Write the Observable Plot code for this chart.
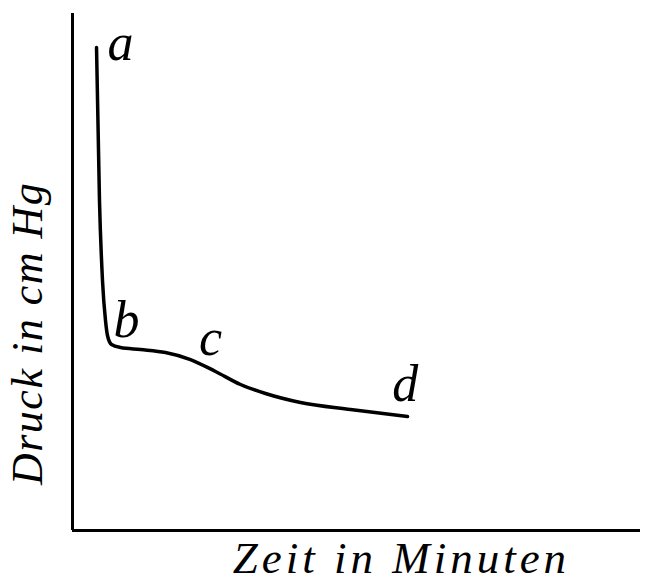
<!DOCTYPE html>
<html>
<head>
<meta charset="utf-8">
<script src="https://cdn.jsdelivr.net/npm/d3@7"></script>
<script src="https://cdn.jsdelivr.net/npm/@observablehq/plot@0.6"></script>
<style>
  html, body { margin: 0; padding: 0; background: #fff; }
  svg { display: block; }
</style>
</head>
<body>
<div id="chart"></div>
<script>
// Time (arbitrary units, 0–100) and pressure (arbitrary units, 0–100)
const time     = [4.23, 4.75, 5.28, 5.81, 6.16, 6.87, 8.45, 11.97, 16.37, 20.77, 25.18, 29.58, 33.98, 40.14, 48.94, 58.98];
const pressure = [92.88, 63.46, 48.08, 40.38, 37.50, 35.77, 35.19, 34.81, 34.23, 32.88, 30.58, 28.08, 26.35, 24.62, 23.27, 21.92];

// Point labels a–d
const labelText = ["a", "b", "c", "d"];
const labelTime = [8.45, 9.5, 24.3, 58.6];
const labelPressure = [90.4, 37.3, 33.7, 25.0];

const xTitle = "Zeit in Minuten";
const yTitle = "Druck in cm Hg";
const xTitlePos = 57.9;
const yTitlePos = 37.9;
const yAxisTop = 99.4;
const xAxisEnd = 100;

const curve = time.map((t, i) => ({t, p: pressure[i]}));
const labels = labelText.map((s, i) => ({s, t: labelTime[i], p: labelPressure[i]}));

const font = "'Liberation Serif', 'DejaVu Serif', serif";

const chart = Plot.plot({
  width: 648,
  height: 582,
  marginLeft: 72,
  marginRight: 8,
  marginTop: 10,
  marginBottom: 52,
  x: {domain: [0, 100], axis: null},
  y: {domain: [0, 100], axis: null},
  style: {background: "#fff", fontFamily: font},
  marks: [
    Plot.ruleX([0], {y1: 0, y2: yAxisTop, stroke: "#000", strokeWidth: 3}),
    Plot.ruleY([0], {x1: 0, x2: xAxisEnd, stroke: "#000", strokeWidth: 3}),
    Plot.line(curve, {x: "t", y: "p", curve: "monotone-x", stroke: "#000", strokeWidth: 3.5, strokeLinecap: "round", strokeLinejoin: "round"}),
    Plot.text(labels, {x: "t", y: "p", text: "s", fontSize: 52, fontStyle: "italic", fontFamily: font, fill: "#000", textAnchor: "middle", lineAnchor: "bottom"}),
    Plot.text([xTitle], {x: xTitlePos, frameAnchor: "bottom", dy: 42, text: d => d, fontSize: 45, fontStyle: "italic", fontFamily: font, fill: "#000", textAnchor: "middle", lineAnchor: "bottom"}),
    Plot.text([yTitle], {y: yTitlePos, frameAnchor: "left", dx: -45, rotate: -90, text: d => d, fontSize: 44, fontStyle: "italic", fontFamily: font, fill: "#000", textAnchor: "middle", lineAnchor: "middle"})
  ]
});
d3.select(chart).selectAll("text").each(function() {
  const t = this.textContent;
  if (t === xTitle) this.setAttribute("letter-spacing", "4");
  if (t === yTitle) this.setAttribute("letter-spacing", "1.5");
});
document.getElementById("chart").appendChild(chart);
</script>
</body>
</html>
